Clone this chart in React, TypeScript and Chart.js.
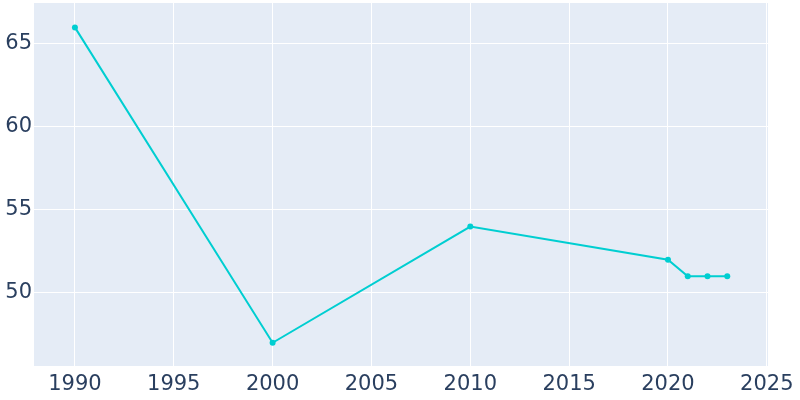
import React, { useEffect, useRef } from "react";
import { Chart, registerables } from "chart.js";

Chart.register(...registerables);

const years = [1990, 2000, 2010, 2020, 2021, 2022, 2023];
const population = [66, 47, 54, 52, 51, 51, 51];
const xTicks = [1990, 1995, 2000, 2005, 2010, 2015, 2020, 2025];
const yTicks = [50, 55, 60, 65];

const bgPlugin = {
  id: "plotBg",
  beforeDraw(chart: any) {
    const { ctx, chartArea } = chart;
    ctx.save();
    ctx.fillStyle = "#e5ecf6";
    ctx.fillRect(chartArea.left, chartArea.top, chartArea.right - chartArea.left, chartArea.bottom - chartArea.top);
    ctx.restore();
  },
};

export default function App() {
  const ref = useRef<HTMLCanvasElement>(null);
  useEffect(() => {
    document.body.style.margin = "0";
    const chart = new Chart(ref.current!, {
      type: "line",
      data: {
        datasets: [
          {
            data: years.map((y, i) => ({ x: y, y: population[i] })),
            borderColor: "#00ced1",
            backgroundColor: "#00ced1",
            borderWidth: 2,
            pointRadius: 3,
            pointHoverRadius: 3,
            pointBorderWidth: 0,
            tension: 0,
          },
        ],
      },
      options: {
        animation: false,
        responsive: false,
        maintainAspectRatio: false,
        layout: { padding: { top: 3, right: 32, left: 0, bottom: 0 } },
        plugins: { legend: { display: false }, tooltip: { enabled: false } },
        scales: {
          x: {
            type: "linear",
            min: 1987.93,
            max: 2025.06,
            afterBuildTicks: (s: any) => {
              s.ticks = xTicks.map((v) => ({ value: v }));
            },
            afterFit: (s: any) => {
              s.height = 34;
              s.paddingLeft = 0;
              s.paddingRight = 0;
            },
            grid: { color: "#ffffff", lineWidth: 1, drawTicks: false },
            border: { display: false },
            ticks: {
              color: "#2a3f5f",
              font: { family: "DejaVu Sans", size: 21 },
              padding: 6,
              maxRotation: 0,
              autoSkip: false,
              callback: (v: any) => String(v),
            },
          },
          y: {
            type: "linear",
            min: 45.6,
            max: 67.47,
            afterBuildTicks: (s: any) => {
              s.ticks = yTicks.map((v) => ({ value: v }));
            },
            afterFit: (s: any) => {
              s.width = 34;
              s.paddingTop = 0;
              s.paddingBottom = 0;
            },
            grid: { color: "#ffffff", lineWidth: 1, drawTicks: false },
            border: { display: false },
            ticks: {
              color: "#2a3f5f",
              font: { family: "DejaVu Sans", size: 21 },
              padding: 2,
              autoSkip: false,
              callback: (v: any) => String(v),
            },
          },
        },
      },
      plugins: [bgPlugin],
    });
    return () => chart.destroy();
  }, []);
  return (
    <div style={{ position: "absolute", left: 0, top: 0, width: 800, height: 400 }}>
      <canvas ref={ref} width={800} height={400} style={{ width: 800, height: 400 }} />
    </div>
  );
}
